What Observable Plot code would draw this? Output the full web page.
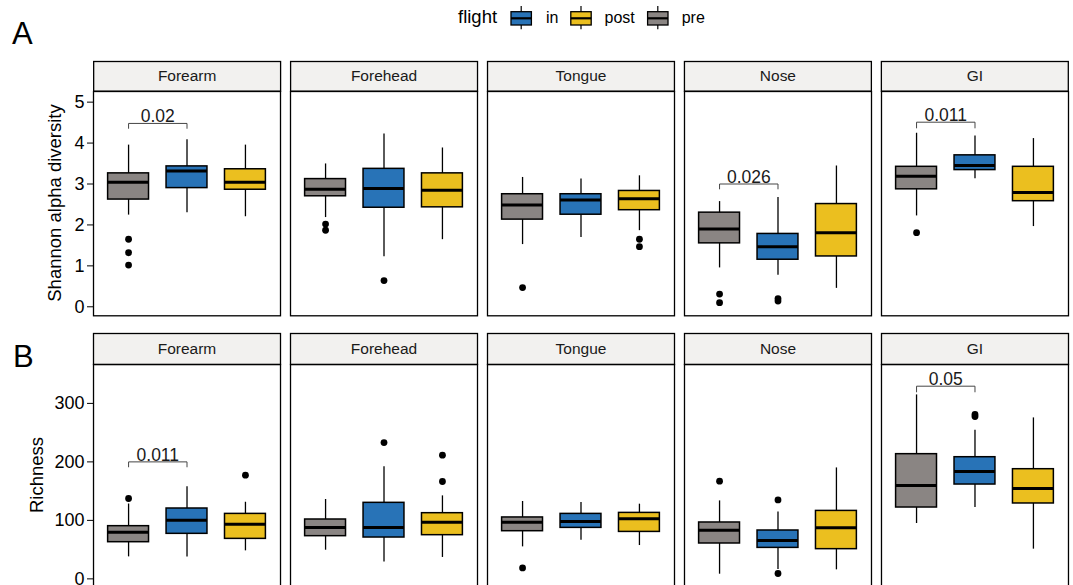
<!DOCTYPE html>
<html>
<head>
<meta charset="utf-8">
<script src="https://cdn.jsdelivr.net/npm/d3@7"></script>
<script src="https://cdn.jsdelivr.net/npm/@observablehq/plot@0.6"></script>
<style>
  html, body { margin: 0; padding: 0; background: #fff; overflow: hidden; }
  #page { position: relative; width: 1073px; height: 585px; overflow: hidden; background: #fff;
          font-family: "Liberation Sans", Arial, Helvetica, sans-serif; }
  #page > svg, #page > figure { position: absolute; left: 0; margin: 0; }
</style>
</head>
<body>
<div id="page"></div>
<script>
// Body sites (facets) and flight phases (boxes inside each facet, left to right)
const sites = ["Forearm", "Forehead", "Tongue", "Nose", "GI"];
const flights = ["pre", "in", "post"];
const legendOrder = ["in", "post", "pre"];
const flightColors = ["#2873b7", "#ebbf1f", "#8a8583"]; // in, post, pre

// Shannon alpha diversity: per site, values for [pre, in, post]
const shannonLow    = [[2.24, 2.30, 2.20], [2.18, 1.22, 1.64], [1.52, 1.69, 1.86], [0.95, 0.77, 0.45], [2.22, 3.13, 1.96]];
const shannonQ1     = [[2.62, 2.90, 2.86], [2.70, 2.42, 2.43], [2.13, 2.25, 2.36], [1.55, 1.15, 1.23], [2.87, 3.34, 2.58]];
const shannonMedian = [[3.04, 3.32, 3.04], [2.87, 2.89, 2.85], [2.49, 2.61, 2.64], [1.90, 1.47, 1.81], [3.19, 3.45, 2.79]];
const shannonQ3     = [[3.26, 3.43, 3.36], [3.12, 3.37, 3.26], [2.75, 2.75, 2.83], [2.30, 1.78, 2.51], [3.42, 3.70, 3.42]];
const shannonHigh   = [[3.95, 4.08, 3.95], [3.49, 4.22, 3.88], [3.16, 3.12, 3.20], [2.57, 2.67, 3.44], [4.24, 4.17, 4.11]];
const shannonOutliers = [
  ["Forearm", "pre", 1.65], ["Forearm", "pre", 1.32], ["Forearm", "pre", 1.02],
  ["Forehead", "pre", 2.02], ["Forehead", "pre", 1.87], ["Forehead", "in", 0.64],
  ["Tongue", "pre", 0.47], ["Tongue", "post", 1.65], ["Tongue", "post", 1.47],
  ["Nose", "pre", 0.31], ["Nose", "pre", 0.10], ["Nose", "in", 0.20], ["Nose", "in", 0.14],
  ["GI", "pre", 1.81]
];
// p-value brackets: [site, from, to, bracket height, tip end, label]
const shannonBrackets = [
  ["Forearm", "pre", "in", 4.48, 4.36, "0.02"],
  ["Nose", "pre", "in", 3.00, 2.88, "0.026"],
  ["GI", "pre", "in", 4.51, 4.37, "0.011"]
];
const shannonTicks = [0, 1, 2, 3, 4, 5];

// Richness: per site, values for [pre, in, post]
const richLow    = [[37.6, 37.6, 47.9], [49, 29, 36.6], [54.7, 66.2, 57], [8, 16, 15.4], [94.7, 122, 50.8]];
const richQ1     = [[62.7, 77, 68.4], [73, 70.7, 74.7], [81.5, 87.2, 80.3], [60.5, 53, 50.8], [122, 161.3, 128.9]];
const richMedian = [[79.8, 100.3, 93.5], [87.8, 87.8, 97], [97, 98.1, 102.6], [83.2, 65.6, 87.2], [159.6, 183.6, 154.5]];
const richQ3     = [[90.1, 120.3, 111.1], [101.5, 130, 112.3], [105, 111.1, 112.8], [96.4, 82.7, 116.2], [213.2, 208, 187.5]];
const richHigh   = [[128, 157.3, 131], [135.7, 191.5, 141.9], [132.3, 130.6, 127.7], [133.3, 114.5, 189.7], [314.5, 254.2, 275.2]];
const richOutliers = [
  ["Forearm", "pre", 137.4], ["Forearm", "post", 177.3],
  ["Forehead", "in", 233], ["Forehead", "post", 211.5], ["Forehead", "post", 166.5],
  ["Tongue", "pre", 18.8],
  ["Nose", "pre", 167], ["Nose", "in", 135], ["Nose", "in", 9.2],
  ["GI", "in", 281], ["GI", "in", 277.5]
];
const richBrackets = [
  ["Forearm", "pre", "in", 200, 191.5, "0.011"],
  ["GI", "pre", "in", 329.4, 319.7, "0.05"]
];
const richTicks = [0, 100, 200, 300];

const FONT = '"Liberation Sans", Arial, Helvetica, sans-serif';
const boxWidth = 0.7;
const posOf = (f) => flights.indexOf(f) + 1;

function boxRows(low, q1, med, q3, high) {
  return sites.flatMap((site, i) => flights.map((flight, j) => ({
    site, flight, pos: j + 1,
    low: low[i][j], q1: q1[i][j], med: med[i][j], q3: q3[i][j], high: high[i][j]
  })));
}
function outlierRows(list) {
  return list.map(([site, flight, value]) => ({site, flight, pos: posOf(flight), value}));
}
function bracketRows(list) {
  return list.map(([site, from, to, y, tip, label], id) => ({site, id, x1: posOf(from), x2: posOf(to), y, tip, label}));
}

const fxScale = {domain: sites, paddingInner: 0.0507, paddingOuter: 0, align: 0.5, axis: null, label: null};
const page = document.getElementById("page");

function stripPlot(top, bottom) {
  const pad = 2;
  const svg = Plot.plot({
    width: 1073, height: bottom - top + 2 * pad,
    marginLeft: 93, marginRight: 4, marginTop: pad, marginBottom: pad,
    style: {background: "transparent", fontFamily: FONT, fontSize: "15.5px", color: "#1a1a1a", overflow: "visible"},
    fx: fxScale,
    marks: [
      Plot.frame({fill: "#f2f1ef", stroke: "black", strokeWidth: 1.3}),
      Plot.text(sites, {fx: (d) => d, text: (d) => d, frameAnchor: "middle", fill: "#1a1a1a"})
    ]
  });
  svg.style.top = (top - pad) + "px";
  page.appendChild(svg);
}

function panelPlot({rows, outliers, brackets, domain, ticks, top, bottom}) {
  const pad = 12;
  const bracketPts = brackets.flatMap((b) => [
    {site: b.site, id: b.id, x: b.x1, y: b.tip},
    {site: b.site, id: b.id, x: b.x1, y: b.y},
    {site: b.site, id: b.id, x: b.x2, y: b.y},
    {site: b.site, id: b.id, x: b.x2, y: b.tip}
  ]);
  const svg = Plot.plot({
    width: 1073, height: bottom - top + 2 * pad,
    marginLeft: 93, marginRight: 4, marginTop: pad, marginBottom: pad,
    style: {background: "transparent", fontFamily: FONT, fontSize: "18px", color: "black", overflow: "visible"},
    fx: fxScale,
    x: {domain: [0.4, 3.6], axis: null},
    y: {domain, ticks, tickFormat: (d) => String(d), tickSize: 6, tickPadding: 3, label: null},
    color: {domain: legendOrder, range: flightColors},
    marks: [
      Plot.ruleX(rows, {fx: "site", x: "pos", y1: "low", y2: "high", stroke: "black", strokeWidth: 1.3}),
      Plot.rect(rows, {fx: "site", x1: (d) => d.pos - boxWidth / 2, x2: (d) => d.pos + boxWidth / 2,
                       y1: "q1", y2: "q3", fill: "flight", stroke: "black", strokeWidth: 1.5}),
      Plot.ruleY(rows, {fx: "site", y: "med", x1: (d) => d.pos - boxWidth / 2, x2: (d) => d.pos + boxWidth / 2,
                        stroke: "black", strokeWidth: 3}),
      Plot.dot(outliers, {fx: "site", x: "pos", y: "value", r: 3.4, fill: "black", stroke: "none"}),
      Plot.line(bracketPts, {fx: "site", x: "x", y: "y", z: "id", stroke: "#444", strokeWidth: 1, curve: "linear"}),
      Plot.text(brackets, {fx: "site", x: (d) => (d.x1 + d.x2) / 2, y: "y", text: "label",
                           lineAnchor: "bottom", dy: -1, fontSize: 17.5, fill: "#1a1a1a"}),
      Plot.frame({stroke: "black", strokeWidth: 1.3})
    ]
  });
  svg.style.top = (top - pad) + "px";
  page.appendChild(svg);
}

// Row A: Shannon alpha diversity
stripPlot(61, 90.7);
panelPlot({
  rows: boxRows(shannonLow, shannonQ1, shannonMedian, shannonQ3, shannonHigh),
  outliers: outlierRows(shannonOutliers),
  brackets: bracketRows(shannonBrackets),
  domain: [-0.22, 5.26], ticks: shannonTicks, top: 90.7, bottom: 315
});

// Row B: Richness
stripPlot(333.3, 364.3);
panelPlot({
  rows: boxRows(richLow, richQ1, richMedian, richQ3, richHigh),
  outliers: outlierRows(richOutliers),
  brackets: bracketRows(richBrackets),
  domain: [-12, 366.5], ticks: richTicks, top: 364.3, bottom: 585.7
});

// Panel tags, axis titles and the flight legend
const overlay = d3.create("svg")
  .attr("width", 1073).attr("height", 585)
  .style("top", "0px").style("pointer-events", "none")
  .style("font-family", FONT);

overlay.append("text").attr("x", 12).attr("y", 44.3).attr("font-size", 31).text("A");
overlay.append("text").attr("x", 13).attr("y", 366.6).attr("font-size", 31).text("B");

overlay.append("text").attr("transform", "translate(61,203) rotate(-90)")
  .attr("text-anchor", "middle").attr("font-size", 18.5).text("Shannon alpha diversity");
overlay.append("text").attr("transform", "translate(43.3,475) rotate(-90)")
  .attr("text-anchor", "middle").attr("font-size", 18.5).text("Richness");

const legend = overlay.append("g");
legend.append("text").attr("x", 458).attr("y", 23.3).attr("font-size", 18.5).text("flight");
const keyX = [521.2, 581, 657.8];
const labelX = [546, 604.5, 681.7];
legendOrder.forEach((name, i) => {
  const cx = keyX[i];
  legend.append("line").attr("x1", cx).attr("x2", cx).attr("y1", 6).attr("y2", 29.3)
    .attr("stroke", "black").attr("stroke-width", 1.2);
  legend.append("rect").attr("x", cx - 10.2).attr("y", 11.7).attr("width", 20.4).attr("height", 13.3)
    .attr("fill", flightColors[i]).attr("stroke", "black").attr("stroke-width", 1.3);
  legend.append("line").attr("x1", cx - 10.2).attr("x2", cx + 10.2).attr("y1", 18.3).attr("y2", 18.3)
    .attr("stroke", "black").attr("stroke-width", 2.2);
  legend.append("text").attr("x", labelX[i]).attr("y", 23.3).attr("font-size", 16).text(name);
});

page.appendChild(overlay.node());
</script>
</body>
</html>
